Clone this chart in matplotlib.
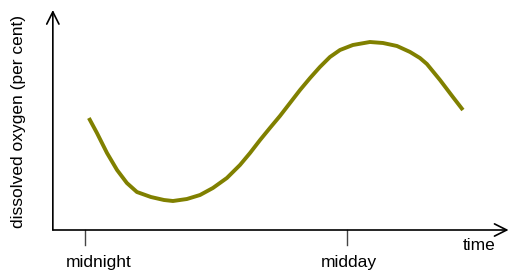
"""Dissolved oxygen over a day (sketch graph)."""

import matplotlib
matplotlib.use("Agg")
import matplotlib.pyplot as plt

plt.rcParams['font.family'] = ['Liberation Sans', 'DejaVu Sans']

# hours after midnight, oxygen level (arbitrary units)
hours = [0.18, 0.55, 1.01, 1.47, 1.92, 2.38, 3.02, 3.62, 4.03, 4.67, 5.27,
         5.86, 6.50, 7.10, 7.56, 8.02, 8.47, 8.93, 9.39, 9.85, 10.31, 10.76,
         11.22, 11.68, 12.27, 13.05, 13.65, 14.29, 14.89, 15.34, 15.66,
         16.26, 16.85, 17.31]
oxygen = [112, 97, 77, 60, 47, 38, 33, 30, 29, 31, 35,
          42, 52, 65, 77, 90, 102, 114, 127, 140, 152, 163,
          173, 180, 185, 188, 187, 184, 178, 172, 166,
          150, 133, 120]
tick_hours = [0, 12]
tick_labels = ['midnight', 'midday']

# axes geometry (hours / units)
x0 = -1.47      # where the vertical axis sits
x_end = 19.4    # tip of the time arrow
y_top = 220     # tip of the oxygen arrow

fig = plt.figure(figsize=(5.09, 2.73), dpi=100, facecolor='w')
ax = fig.add_axes([0, 0, 1, 1])
ax.set_xlim(-3.89, 19.42)
ax.set_ylim(-43, 230)
ax.axis('off')

# axes with open arrow heads
arrow = dict(arrowstyle='->', lw=1.2, color='k', mutation_scale=22,
             shrinkA=0, shrinkB=0)
ax.annotate('', xy=(x0, y_top), xytext=(x0, 0), arrowprops=arrow)
ax.annotate('', xy=(x_end, 0), xytext=(x0, 0), arrowprops=arrow)

# tick marks and their labels
for h in tick_hours:
    ax.plot([h, h], [0, -15], c='#444444', lw=1.0)
ax.text(0.63, -33, tick_labels[0], ha='center', va='center', fontsize=12.5)
ax.text(12.1, -33, tick_labels[1], ha='center', va='center', fontsize=12.5)
ax.text(18.05, -16, 'time', ha='center', va='center', fontsize=12.5)
ax.text(-3.05, 109, 'dissolved oxygen (per cent)', rotation=90,
        ha='center', va='center', fontsize=12.5)

ax.plot(hours, oxygen, c='#808000', lw=2.8, solid_capstyle='butt',
        solid_joinstyle='round')

plt.savefig('out.png', dpi=100)
